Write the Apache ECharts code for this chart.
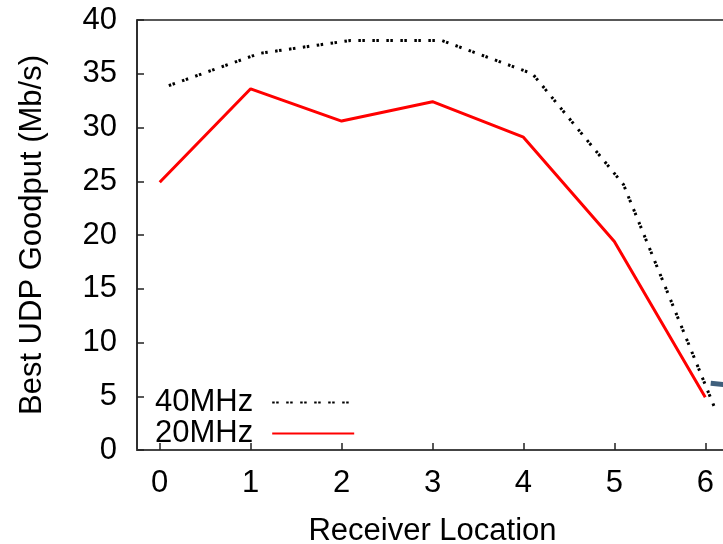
<!DOCTYPE html>
<html><head><meta charset="utf-8">
<script src="https://cdn.jsdelivr.net/npm/echarts@6/dist/echarts.min.js"></script>
<style>html,body{margin:0;padding:0;background:#fff}#c{width:723px;height:544px}</style>
</head><body><div id="c"></div>
<script>
const xTicks = [0, 1, 2, 3, 4, 5, 6];
const x40 = [0.1, 1.1, 2.1, 3.1, 4.1, 5.1, 6.1];
const y40 = [33.9, 36.9, 38.1, 38.1, 35.0, 24.7, 4.0];
const x20 = [0, 1, 2, 3, 4, 5, 6];
const y20 = [24.9, 33.6, 30.6, 32.4, 29.1, 19.4, 4.9];
const xArrow = [6.06, 6.3];
const yArrow = [6.2, 6.0];

const F = 'Liberation Sans';
const FS = 31;
const pairs = (xs, ys) => xs.map((x, i) => [x, ys[i]]);
const chart = echarts.init(document.getElementById('c'));
chart.setOption({
  animation: false,
  backgroundColor: '#fff',
  grid: { left: 137, top: 20, right: -5, bottom: 94, show: true, borderColor: '#222', borderWidth: 1.5,
    outerBoundsMode: 'none', containLabel: false },
  legend: {
    orient: 'vertical', align: 'right', left: 150, top: 382,
    itemWidth: 82, itemHeight: 14, itemGap: 0,
    itemStyle: { color: 'transparent', borderWidth: 0, opacity: 0 },
    textStyle: { fontFamily: F, fontSize: FS, color: '#000', lineHeight: 30, padding: [0, 14, 0, 0] },
    data: ['40MHz', '20MHz']
  },
  xAxis: {
    type: 'value', min: -0.25, max: 6.25, interval: 1,
    name: 'Receiver Location', nameLocation: 'middle', nameGap: 66,
    nameTextStyle: { fontFamily: F, fontSize: FS, color: '#000' },
    axisLine: { onZero: false, lineStyle: { color: '#444', width: 2 } },
    axisTick: { inside: true, length: 7, customValues: xTicks, lineStyle: { color: '#222', width: 1.5 } },
    axisLabel: { fontFamily: F, fontSize: FS, color: '#000', margin: 18,
      customValues: xTicks },
    splitLine: { show: false }
  },
  yAxis: {
    type: 'value', min: 0, max: 40, interval: 5,
    name: 'Best UDP Goodput (Mb/s)', nameLocation: 'middle', nameGap: 89,
    nameTextStyle: { fontFamily: F, fontSize: FS, color: '#000' },
    axisLine: { onZero: false, lineStyle: { color: '#222', width: 1.5 } },
    axisTick: { inside: true, length: 7, lineStyle: { color: '#222', width: 1.5 } },
    axisLabel: { fontFamily: F, fontSize: FS, color: '#000', margin: 20 },
    splitLine: { show: false }
  },
  series: [
    { name: '40MHz', type: 'line', data: pairs(x40, y40), symbol: 'none',
      itemStyle: { color: '#000' },
      lineStyle: { color: '#000', width: 3, type: [2.5, 1.5, 2.5, 7.5] } },
    { name: '20MHz', type: 'line', data: pairs(x20, y20), symbol: 'none',
      itemStyle: { color: '#ff0000' },
      lineStyle: { color: '#ff0000', width: 3 } },
    { name: 'arrow', type: 'line', data: pairs(xArrow, yArrow), symbol: 'none',
      lineStyle: { color: '#3f5f7c', width: 5 } }
  ]
});
</script></body></html>
